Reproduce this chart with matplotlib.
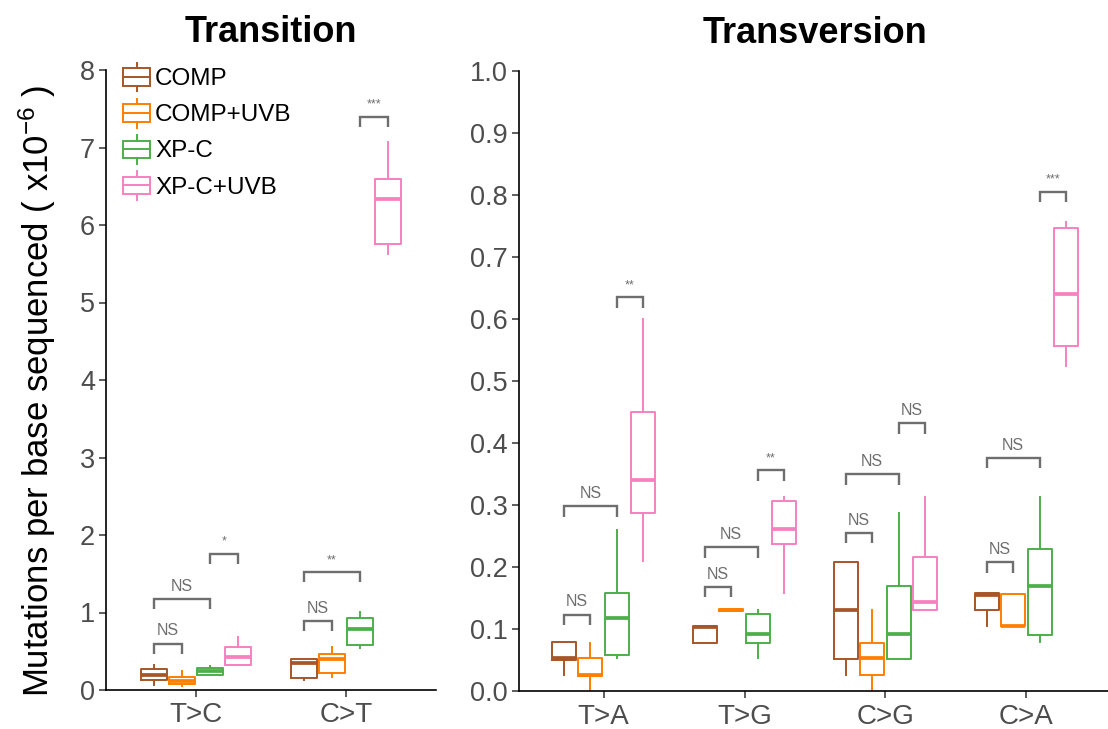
import matplotlib
matplotlib.use("Agg")
import matplotlib.pyplot as plt
from matplotlib.legend_handler import HandlerBase
from matplotlib.patches import Rectangle, Patch
from matplotlib.lines import Line2D
import numpy as np

plt.rcParams['font.family'] = ['Liberation Sans', 'DejaVu Sans']
plt.rcParams['mathtext.fontset'] = 'custom'
plt.rcParams['mathtext.rm'] = 'Liberation Sans'
plt.rcParams['mathtext.default'] = 'regular'

groups = ["COMP", "COMP+UVB", "XP-C", "XP-C+UVB"]
colors = ["#A65628", "#FF7F00", "#4DAF4A", "#F781BF"]

transition_cats = ["T>C", "C>T"]
transversion_cats = ["T>A", "T>G", "C>G", "C>A"]

# five-number summaries: (whisker low, q1, median, q3, whisker high)
transition_COMP = [(0.06, 0.13, 0.19, 0.27, 0.32), (0.13, 0.16, 0.35, 0.40, 0.40)]
transition_COMP_UVB = [(0.05, 0.08, 0.12, 0.17, 0.25), (0.17, 0.22, 0.40, 0.47, 0.56)]
transition_XPC = [(0.20, 0.20, 0.25, 0.28, 0.31), (0.54, 0.58, 0.79, 0.93, 1.01)]
transition_XPC_UVB = [(0.32, 0.32, 0.43, 0.55, 0.69), (5.62, 5.75, 6.33, 6.60, 7.07)]

transversion_COMP = [(0.026, 0.050, 0.053, 0.079, 0.079), (0.078, 0.078, 0.103, 0.105, 0.105),
                     (0.026, 0.052, 0.131, 0.208, 0.208), (0.105, 0.131, 0.155, 0.158, 0.158)]
transversion_COMP_UVB = [(0.0, 0.024, 0.026, 0.053, 0.077), (0.129, 0.129, 0.131, 0.132, 0.132),
                         (0.0, 0.026, 0.053, 0.078, 0.131), (0.105, 0.105, 0.105, 0.157, 0.157)]
transversion_XPC = [(0.053, 0.058, 0.118, 0.158, 0.260), (0.053, 0.078, 0.092, 0.124, 0.130),
                    (0.052, 0.052, 0.092, 0.169, 0.287), (0.079, 0.090, 0.170, 0.229, 0.313)]
transversion_XPC_UVB = [(0.210, 0.287, 0.340, 0.450, 0.600), (0.158, 0.237, 0.262, 0.307, 0.313),
                        (0.131, 0.131, 0.144, 0.216, 0.313), (0.524, 0.556, 0.640, 0.747, 0.756)]

# significance brackets: (category index, group i, group j, y, label)
transition_sig = [(0, 0, 1, 0.60, "NS"), (0, 0, 2, 1.18, "NS"), (0, 2, 3, 1.76, "*"),
                  (1, 0, 1, 0.89, "NS"), (1, 0, 2, 1.52, "**"), (1, 2, 3, 7.40, "***")]
transversion_sig = [(0, 0, 1, 0.123, "NS"), (0, 0, 2, 0.298, "NS"), (0, 2, 3, 0.635, "**"),
                    (1, 0, 1, 0.168, "NS"), (1, 0, 2, 0.232, "NS"), (1, 2, 3, 0.356, "**"),
                    (2, 0, 1, 0.255, "NS"), (2, 0, 2, 0.350, "NS"), (2, 2, 3, 0.432, "NS"),
                    (3, 0, 1, 0.208, "NS"), (3, 0, 2, 0.376, "NS"), (3, 2, 3, 0.805, "***")]

W, H = 1108, 729
fig = plt.figure(figsize=(W / 100, H / 100), dpi=100)

def px_axes(x0, x1, ytop, ybot):
    return fig.add_axes([x0 / W, (H - ybot) / H, (x1 - x0) / W, (ybot - ytop) / H])

ax1 = px_axes(106, 436, 70, 690)
ax2 = px_axes(519, 1111, 71, 691)

slot = 0.1875
offsets = (np.arange(4) - 1.5) * slot
bw = 0.17
tick_col = "#4D4D4D"
sig_col = "#6E6E6E"

def draw_panel(ax, cats, data_list, sig, ymax, title, yticks, fmt, tip):
    for gi, (data, col) in enumerate(zip(data_list, colors)):
        stats = []
        for lo, q1, med, q3, hi in data:
            stats.append(dict(whislo=lo, q1=q1, med=med, q3=q3, whishi=hi, fliers=[]))
        pos = np.arange(1, len(cats) + 1) + offsets[gi]
        ax.bxp(stats, positions=pos, widths=bw, showfliers=False, showcaps=False,
               boxprops=dict(color=col, linewidth=1.4),
               whiskerprops=dict(color=col, linewidth=1.4),
               medianprops=dict(color=col, linewidth=2.7, solid_capstyle='butt'),
               manage_ticks=False)
    for ci, gi, gj, y, lab in sig:
        xa = ci + 1 + offsets[gi]
        xb = ci + 1 + offsets[gj]
        ax.plot([xa, xa, xb, xb], [y - tip, y, y, y - tip], color=sig_col, lw=1.7,
                solid_joinstyle='miter', solid_capstyle='butt')
        if lab == "NS":
            ax.text((xa + xb) / 2, y + tip * 0.5, lab, ha='center', va='bottom',
                    fontsize=11.5, color=sig_col)
        else:
            ax.text((xa + xb) / 2, y + tip * 0.6, lab, ha='center', va='bottom',
                    fontsize=9, color=sig_col)
    ax.set_xlim(0.4, len(cats) + 0.6)
    ax.set_ylim(0, ymax)
    ax.set_xticks(np.arange(1, len(cats) + 1))
    ax.set_xticklabels(cats)
    ax.set_yticks(yticks)
    ax.set_yticklabels([fmt.format(v) for v in yticks])
    for s in ["top", "right"]:
        ax.spines[s].set_visible(False)
    for s in ["left", "bottom"]:
        ax.spines[s].set_linewidth(1.2)
        ax.spines[s].set_color("black")
    ax.tick_params(axis='both', length=5, width=1.1, color='#333333',
                   labelcolor=tick_col, labelsize=19.5, pad=3)
    ax.tick_params(axis='x', labelsize=20, pad=4)
    ax.set_title(title, fontsize=26, fontweight='bold', pad=20)

draw_panel(ax1, transition_cats,
           [transition_COMP, transition_COMP_UVB, transition_XPC, transition_XPC_UVB],
           transition_sig, 8, "Transition", list(range(0, 9)), "{:.0f}", 0.13)
draw_panel(ax2, transversion_cats,
           [transversion_COMP, transversion_COMP_UVB, transversion_XPC, transversion_XPC_UVB],
           transversion_sig, 1.0, "Transversion", [round(0.1 * i, 1) for i in range(11)], "{:.1f}", 0.017)


class BoxHandler(HandlerBase):
    def create_artists(self, legend, orig_handle, xdescent, ydescent, width, height,
                       fontsize, trans):
        c = orig_handle.get_edgecolor()
        x0 = -xdescent
        y0 = -ydescent
        bh = height * 0.6
        by = y0 + (height - bh) / 2
        rect = Rectangle((x0, by), width, bh, facecolor='white', edgecolor=c,
                         linewidth=1.4, transform=trans)
        xm = x0 + width / 2
        med = Line2D([x0, x0 + width], [y0 + height / 2] * 2, color=c, lw=1.4, transform=trans)
        w1 = Line2D([xm, xm], [by + bh, y0 + height], color=c, lw=1.4, transform=trans)
        w2 = Line2D([xm, xm], [y0, by], color=c, lw=1.4, transform=trans)
        return [rect, med, w1, w2]

handles = [Patch(edgecolor=c, facecolor='white', label=g) for g, c in zip(groups, colors)]
leg = ax1.legend(handles=handles, loc='upper left', bbox_to_anchor=(0.052, 1.012),
                 frameon=False, fontsize=17.5, handler_map={Patch: BoxHandler()},
                 handlelength=1.12, handleheight=1.45, handletextpad=0.2, labelspacing=0.3,
                 borderaxespad=0.0, borderpad=0.0)

fig.text(37 / W, (H - 391) / H, "Mutations per base sequenced ( x10$^{-6}$ )",
         rotation=90, ha='center', va='center', fontsize=25, color='black')

fig.savefig("out.png", dpi=100)
